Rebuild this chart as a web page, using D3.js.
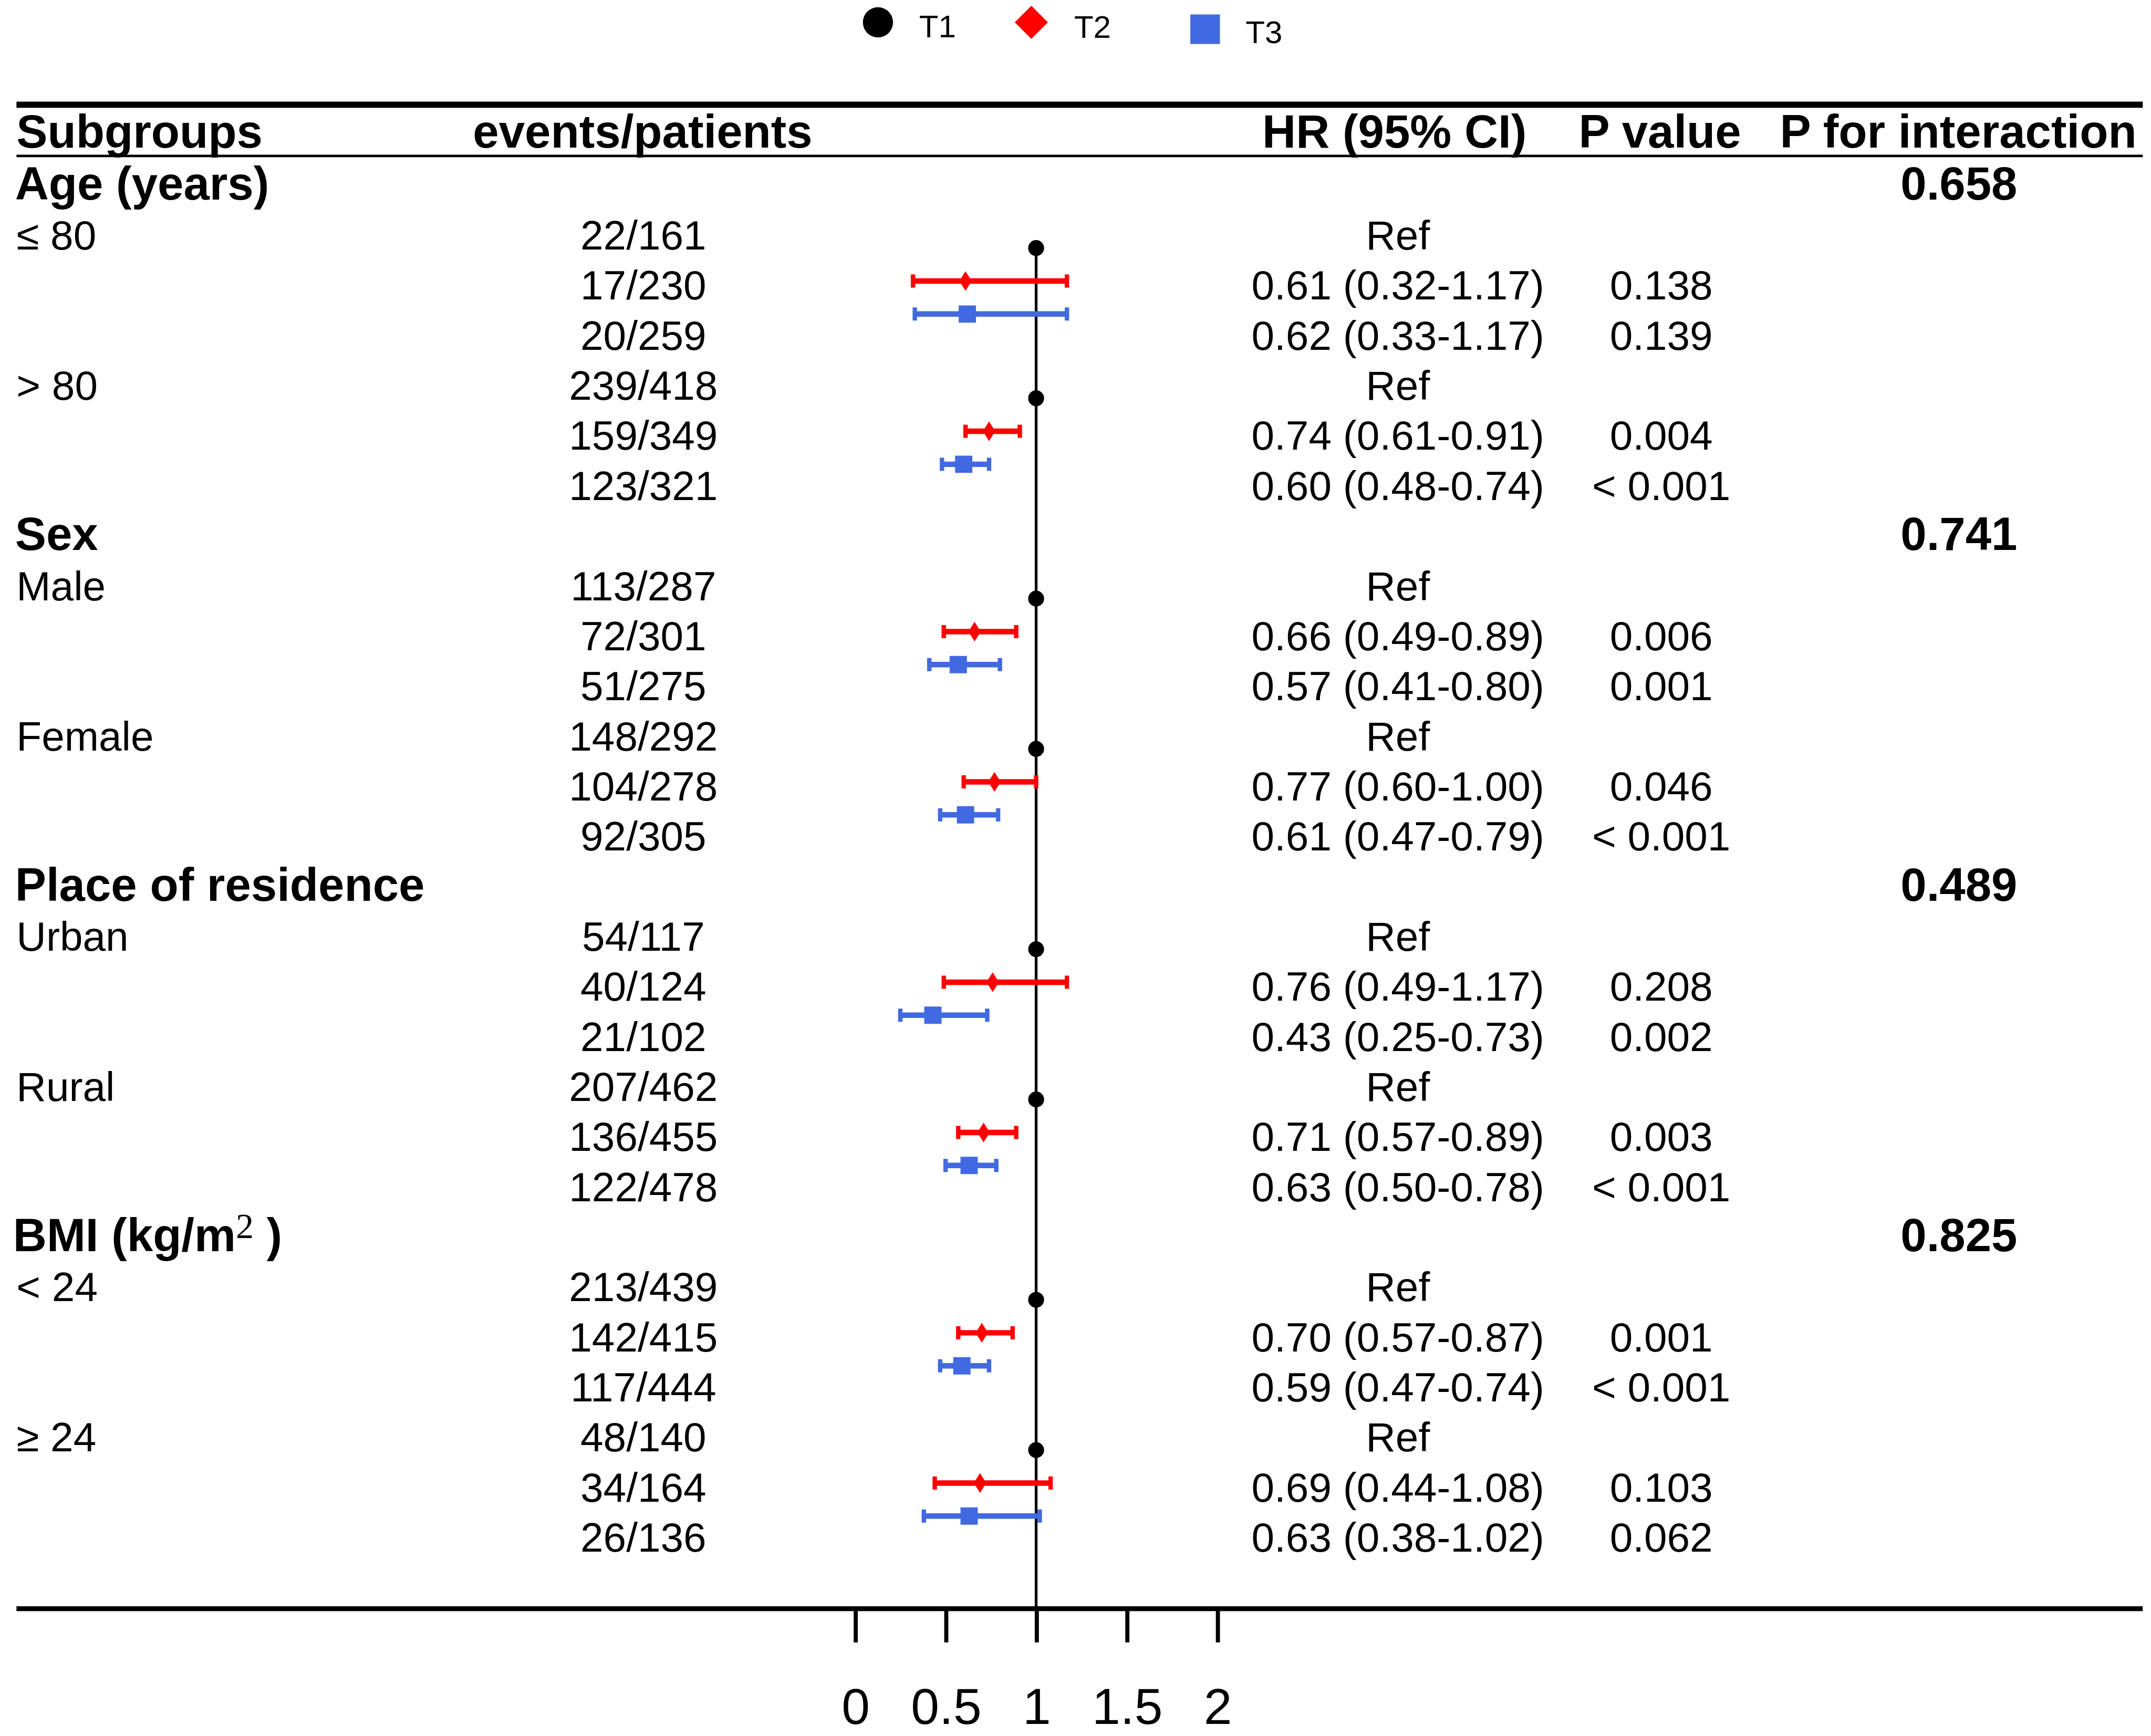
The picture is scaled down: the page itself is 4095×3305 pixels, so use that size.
<!DOCTYPE html>
<html>
<head>
<meta charset="utf-8">
<script src="https://cdn.jsdelivr.net/npm/d3@7"></script>
<style>
  html, body { margin: 0; padding: 0; background: #fff; }
  svg { display: block; }
  text { font-family: "Liberation Sans", Arial, sans-serif; fill: #000; }
</style>
</head>
<body>
<div id="chart"></div>
<script>
// ---- data ----
var groups = ["Age (years)", "Sex", "Place of residence", "BMI (kg/m"];
var pInteraction = ["0.658", "0.741", "0.489", "0.825"];
var subgroups = ["\u2264 80", "> 80", "Male", "Female", "Urban", "Rural", "< 24", "\u2265 24"];
var subgroupOf = [0, 0, 1, 1, 2, 2, 3, 3];
var tertiles = ["T1", "T2", "T3"];
var colors = ["#000000", "#FF0000", "#4169E1"];

var events = [
  ["22/161", "17/230", "20/259"],
  ["239/418", "159/349", "123/321"],
  ["113/287", "72/301", "51/275"],
  ["148/292", "104/278", "92/305"],
  ["54/117", "40/124", "21/102"],
  ["207/462", "136/455", "122/478"],
  ["213/439", "142/415", "117/444"],
  ["48/140", "34/164", "26/136"]
];
var hr = [
  [1, 0.61, 0.62], [1, 0.74, 0.60], [1, 0.66, 0.57], [1, 0.77, 0.61],
  [1, 0.76, 0.43], [1, 0.71, 0.63], [1, 0.70, 0.59], [1, 0.69, 0.63]
];
var lower = [
  [null, 0.32, 0.33], [null, 0.61, 0.48], [null, 0.49, 0.41], [null, 0.60, 0.47],
  [null, 0.49, 0.25], [null, 0.57, 0.50], [null, 0.57, 0.47], [null, 0.44, 0.38]
];
var upper = [
  [null, 1.17, 1.17], [null, 0.91, 0.74], [null, 0.89, 0.80], [null, 1.00, 0.79],
  [null, 1.17, 0.73], [null, 0.89, 0.78], [null, 0.87, 0.74], [null, 1.08, 1.02]
];
var pValues = [
  ["", "0.138", "0.139"], ["", "0.004", "< 0.001"], ["", "0.006", "0.001"], ["", "0.046", "< 0.001"],
  ["", "0.208", "0.002"], ["", "0.003", "< 0.001"], ["", "0.001", "< 0.001"], ["", "0.103", "0.062"]
];
var axisTicks = [0, 0.5, 1, 1.5, 2];
var headers = ["Subgroups", "events/patients", "HR (95% CI)", "P value", "P for interaction"];

// ---- build the table rows ----
var rows = [];
groups.forEach(function(g, gi) {
  rows.push({ type: "group", label: g, pint: pInteraction[gi], group: gi });
  subgroups.forEach(function(s, si) {
    if (subgroupOf[si] !== gi) return;
    tertiles.forEach(function(t, ti) {
      rows.push({
        type: "item", sub: si, t: ti,
        label: ti === 0 ? s : "",
        events: events[si][ti],
        hr: hr[si][ti], lo: lower[si][ti], hi: upper[si][ti],
        hrText: ti === 0 ? "Ref" : d3.format(".2f")(hr[si][ti]) + " (" + d3.format(".2f")(lower[si][ti]) + "-" + d3.format(".2f")(upper[si][ti]) + ")",
        p: pValues[si][ti]
      });
    });
  });
});
rows.forEach(function(r, i) { r.index = i; });

// ---- layout ----
var W = 1568, H = 1265.5;
var svg = d3.select("#chart").append("svg")
  .attr("width", 4095).attr("height", 3305)
  .attr("viewBox", "0 0 " + W + " " + H);

var left = 12, right = 1562;
var col = { events: 469, hr: 1019, p: 1211, pint: 1428 };

var y = d3.scaleLinear().domain([0, rows.length - 1]).range([145.4, 145.4 + (rows.length - 1) * 36.51]);
var markOffset = d3.scaleLinear().domain([0, 2]).range([-1.1, 47]);
var x = d3.scaleLinear().domain([0, 2]).range([623.3, 887.3]);

var firstRowOfSub = {};
rows.forEach(function(r) { if (r.type === "item" && r.t === 0) firstRowOfSub[r.sub] = r.index; });
function markY(r) { return y(firstRowOfSub[r.sub]) + markOffset(r.t); }

// horizontal rules
svg.append("line").attr("x1", left).attr("x2", right).attr("y1", 76.3).attr("y2", 76.3)
  .attr("stroke", "#000").attr("stroke-width", 4.5);
svg.append("line").attr("x1", left).attr("x2", right).attr("y1", 113.7).attr("y2", 113.7)
  .attr("stroke", "#000").attr("stroke-width", 1.8);
var bottomY = 1172.7;
svg.append("line").attr("x1", left).attr("x2", right).attr("y1", bottomY).attr("y2", bottomY)
  .attr("stroke", "#000").attr("stroke-width", 3.5);

// headers
var headerX = [left, 468.5, 1016.5, 1210, 1427.5];
svg.selectAll(".hdr").data(headers).enter().append("text")
  .attr("class", "hdr")
  .attr("x", function(d, i) { return headerX[i]; })
  .attr("y", 107.5)
  .attr("text-anchor", function(d, i) { return i === 0 ? "start" : "middle"; })
  .style("font-size", "34px").style("font-weight", "bold")
  .text(function(d) { return d; });

// group rows
var groupRows = rows.filter(function(r) { return r.type === "group"; });
var gt = svg.selectAll(".grp").data(groupRows).enter().append("text")
  .attr("class", "grp")
  .attr("x", function(d) { return d.group === 3 ? 9.5 : 11; })
  .attr("y", function(d) { return y(d.index); })
  .style("font-size", "34px").style("font-weight", "bold")
  .text(function(d) { return d.label; });
// BMI superscript
gt.filter(function(d) { return d.group === 3; }).each(function() {
  var t = d3.select(this);
  t.append("tspan").attr("dy", -9.5).style("font-family", "'Liberation Serif', 'Times New Roman', serif")
    .style("font-weight", "normal").style("font-size", "26px").text("2");
  t.append("tspan").attr("dy", 9.5).text(" )");
});
svg.selectAll(".pint").data(groupRows).enter().append("text")
  .attr("x", col.pint).attr("y", function(d) { return y(d.index); })
  .attr("text-anchor", "middle")
  .style("font-size", "34px").style("font-weight", "bold")
  .text(function(d) { return d.pint; });

// item rows
var items = rows.filter(function(r) { return r.type === "item"; });
var it = svg.selectAll(".item").data(items).enter().append("g").attr("class", "item");
it.append("text").attr("x", 12).attr("y", function(d) { return y(d.index); })
  .style("font-size", "30px").text(function(d) { return d.label; });
it.append("text").attr("x", col.events).attr("y", function(d) { return y(d.index); })
  .attr("text-anchor", "middle").style("font-size", "30px").text(function(d) { return d.events; });
it.append("text").attr("x", col.hr).attr("y", function(d) { return y(d.index); })
  .attr("text-anchor", "middle").style("font-size", "30px").text(function(d) { return d.hrText; });
it.append("text").attr("x", col.p).attr("y", function(d) { return y(d.index); })
  .attr("text-anchor", "middle").style("font-size", "30px").text(function(d) { return d.p; });

// reference line at HR = 1
svg.append("line")
  .attr("x1", x(1)).attr("x2", x(1))
  .attr("y1", markY(items[0])).attr("y2", bottomY)
  .attr("stroke", "#000").attr("stroke-width", 2);

// confidence intervals
var ci = items.filter(function(d) { return d.lo !== null; });
var cg = svg.selectAll(".ci").data(ci).enter().append("g").attr("class", "ci")
  .attr("stroke", function(d) { return colors[d.t]; });
cg.append("line")
  .attr("x1", function(d) { return x(d.lo); }).attr("x2", function(d) { return x(d.hi); })
  .attr("y1", markY).attr("y2", markY).attr("stroke-width", 4);
cg.selectAll(".cap").data(function(d) { return [d.lo, d.hi].map(function(v) { return { v: v, r: d }; }); })
  .enter().append("line")
  .attr("x1", function(c) { return x(c.v); }).attr("x2", function(c) { return x(c.v); })
  .attr("y1", function(c) { return markY(c.r) - 4.8; }).attr("y2", function(c) { return markY(c.r) + 4.8; })
  .attr("stroke-width", 3.2);

// point estimates
var shapes = [
  function(s) { return "M0," + (-s) + "a" + s + "," + s + " 0 1,1 0," + (2 * s) + "a" + s + "," + s + " 0 1,1 0," + (-2 * s) + "Z"; },
  function(s) { return "M0," + (-s * 1.2) + "L" + (s * 0.75) + ",0L0," + (s * 1.2) + "L" + (-s * 0.75) + ",0Z"; },
  function(s) { return "M" + (-s) + "," + (-s) + "H" + s + "V" + s + "H" + (-s) + "Z"; }
];
var markSize = [5.8, 6, 6.3];
svg.selectAll(".pt").data(items).enter().append("path")
  .attr("transform", function(d) { return "translate(" + x(d.hr) + "," + markY(d) + ")"; })
  .attr("d", function(d) { return shapes[d.t](markSize[d.t]); })
  .attr("fill", function(d) { return colors[d.t]; });

// x axis below the bottom rule
var axis = d3.axisBottom(x).tickValues(axisTicks).tickSize(23).tickPadding(33)
  .tickFormat(d3.format("~g"));
var ax = svg.append("g").attr("transform", "translate(0," + 1174.3 + ")").call(axis);
ax.select(".domain").remove();
ax.selectAll(".tick line").attr("stroke", "#000").attr("stroke-width", 3);
ax.selectAll(".tick text").attr("fill", "#000")
  .style("font-family", "'Liberation Sans', Arial, sans-serif").style("font-size", "37px");

// legend
var legendX = [640, 751.8, 878.5];
var legendY = [16.3, 16.3, 21.3];
var legendSize = [11, 10.5, 10.8];
var legendTextX = [670, 783, 908];
var legendTextY = [27.2, 27.4, 31.5];
var lg = svg.selectAll(".lg").data(tertiles).enter().append("g").attr("class", "lg");
lg.append("path")
  .attr("transform", function(d, i) { return "translate(" + legendX[i] + "," + legendY[i] + ")"; })
  .attr("d", function(d, i) {
    if (i === 1) { var s = legendSize[i]; return "M0," + (-s * 1.15) + "L" + (s * 1.15) + ",0L0," + (s * 1.15) + "L" + (-s * 1.15) + ",0Z"; }
    return shapes[i](legendSize[i]);
  })
  .attr("fill", function(d, i) { return colors[i]; });
lg.append("text")
  .attr("x", function(d, i) { return legendTextX[i]; })
  .attr("y", function(d, i) { return legendTextY[i]; })
  .style("font-size", "23px")
  .text(function(d) { return d; });
</script>
</body>
</html>
